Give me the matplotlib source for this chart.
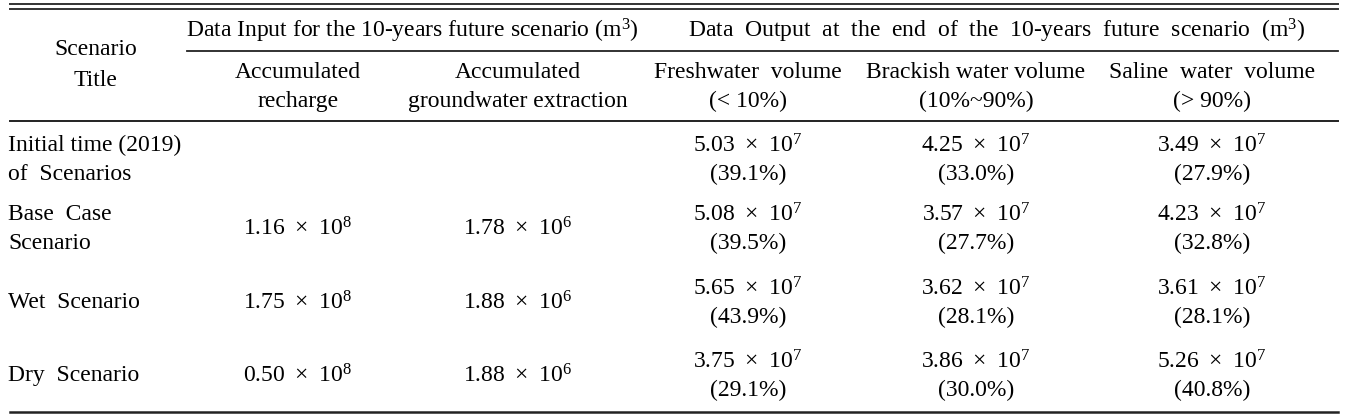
import matplotlib
matplotlib.use("Agg")
import matplotlib.pyplot as plt

plt.rcParams['font.family'] = ['Liberation Serif', 'DejaVu Serif']
plt.rcParams['mathtext.fontset'] = 'custom'
plt.rcParams['mathtext.rm'] = 'Liberation Serif'
plt.rcParams['mathtext.default'] = 'regular'

# table content
scenarios = ["Initial time (2019)\nof  Scenarios", "Base  Case\nScenario",
             "Wet  Scenario", "Dry  Scenario"]
recharge = [None, 1.16, 1.75, 0.50]        # x 10^8
extraction = [None, 1.78, 1.88, 1.88]      # x 10^6
fresh = [5.03, 5.08, 5.65, 3.75]           # x 10^7
fresh_pct = [39.1, 39.5, 43.9, 29.1]
brackish = [4.25, 3.57, 3.62, 3.86]
brackish_pct = [33.0, 27.7, 28.1, 30.0]
saline = [3.49, 4.23, 3.61, 5.26]
saline_pct = [27.9, 32.8, 28.1, 40.8]

group_heads = ["Data Input for the 10-years future scenario (m$^{3}$)",
               "Data  Output  at  the  end  of  the  10-years  future  scenario  (m$^{3}$)"]
sub_heads = ["Accumulated\nrecharge", "Accumulated\ngroundwater extraction",
             "Freshwater  volume\n(< 10%)", "Brackish water volume\n(10%~90%)",
             "Saline  water  volume\n(> 90%)"]

W, H = 1353, 416
fig = plt.figure(figsize=(W / 100, H / 100), dpi=100)
ax = fig.add_axes([0, 0, 1, 1])
ax.set_xlim(0, W)
ax.set_ylim(H, 0)
ax.axis('off')

fs = 17
col_x = [298, 518, 748, 976, 1212]
row_y = [160, 229, 303, 376]
dy = 14
x0, x1 = 10, 1338

# rules
ax.plot([x0, x1], [4, 4], color='#333333', lw=1.4)
ax.plot([x0, x1], [9, 9], color='#333333', lw=1.4)
ax.plot([187, x1], [51, 51], color='#222222', lw=1.3)
ax.plot([x0, x1], [121, 121], color='#222222', lw=1.4)
ax.plot([x0, x1], [412, 412], color='#222222', lw=1.8)

# header
ax.text(96, 65, "Scenario\nTitle", ha='center', va='center', fontsize=fs, linespacing=1.6)
ax.text(412, 31, group_heads[0], ha='center', va='center', fontsize=fs)
ax.text(997, 31, group_heads[1], ha='center', va='center', fontsize=fs)
for x, s in zip(col_x, sub_heads):
    ax.text(x, 87, s, ha='center', va='center', fontsize=fs, linespacing=1.45)


def sci(v, e):
    return "%.2f \u2009\u00d7\u2009 10$^{%d}$" % (v, e)


for i, y in enumerate(row_y):
    ax.text(8, y, scenarios[i], ha='left', va='center', fontsize=fs, linespacing=1.45)
    if recharge[i] is not None:
        ax.text(col_x[0], y, sci(recharge[i], 8), ha='center', va='center', fontsize=fs)
        ax.text(col_x[1], y, sci(extraction[i], 6), ha='center', va='center', fontsize=fs)
    for j, (vals, pcts) in enumerate([(fresh, fresh_pct), (brackish, brackish_pct),
                                      (saline, saline_pct)]):
        ax.text(col_x[2 + j], y - dy, sci(vals[i], 7), ha='center', va='center', fontsize=fs)
        ax.text(col_x[2 + j], y + dy, "(%.1f%%)" % pcts[i], ha='center', va='center', fontsize=fs)

fig.savefig("out.png", dpi=100)
